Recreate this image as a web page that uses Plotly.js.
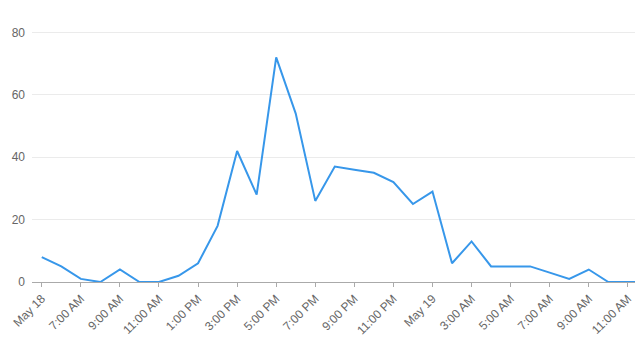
<!DOCTYPE html>
<html>
<head>
<meta charset="utf-8">
<script src="https://cdn.plot.ly/plotly-3.0.1.min.js"></script>
<style>html,body{margin:0;padding:0;background:#fff;}#chart{width:635px;height:341px;}</style>
</head>
<body>
<div id="chart"></div>
<script>
var times = [
  '2024-05-18 05:00','2024-05-18 06:00','2024-05-18 07:00','2024-05-18 08:00','2024-05-18 09:00',
  '2024-05-18 10:00','2024-05-18 11:00','2024-05-18 12:00','2024-05-18 13:00','2024-05-18 14:00',
  '2024-05-18 15:00','2024-05-18 16:00','2024-05-18 17:00','2024-05-18 18:00','2024-05-18 19:00',
  '2024-05-18 20:00','2024-05-18 21:00','2024-05-18 22:00','2024-05-18 23:00','2024-05-19 00:00',
  '2024-05-19 01:00','2024-05-19 02:00','2024-05-19 03:00','2024-05-19 04:00','2024-05-19 05:00',
  '2024-05-19 06:00','2024-05-19 07:00','2024-05-19 08:00','2024-05-19 09:00','2024-05-19 10:00',
  '2024-05-19 11:00','2024-05-19 12:00'
];
var values = [8,5,1,0,4,0,0,2,6,18,42,28,72,54,26,37,36,35,32,25,29,6,13,5,5,5,3,1,4,0,0,0];

var tickVals = [
  '2024-05-18 05:00','2024-05-18 07:00','2024-05-18 09:00','2024-05-18 11:00','2024-05-18 13:00',
  '2024-05-18 15:00','2024-05-18 17:00','2024-05-18 19:00','2024-05-18 21:00','2024-05-18 23:00',
  '2024-05-19 01:00','2024-05-19 03:00','2024-05-19 05:00','2024-05-19 07:00','2024-05-19 09:00',
  '2024-05-19 11:00'
];
var tickText = ['May 18','7:00 AM','9:00 AM','11:00 AM','1:00 PM','3:00 PM','5:00 PM','7:00 PM',
  '9:00 PM','11:00 PM','May 19','3:00 AM','5:00 AM','7:00 AM','9:00 AM','11:00 AM'];

var trace = {
  x: times, y: values, type: 'scatter', mode: 'lines',
  line: {color: '#3797ea', width: 2},
  hoverinfo: 'x+y'
};

var layout = {
  width: 635, height: 341,
  margin: {l: 32, r: 0, t: 20, b: 59},
  paper_bgcolor: '#fff', plot_bgcolor: '#fff',
  showlegend: false,
  font: {family: 'Liberation Sans, Arial, sans-serif', size: 12, color: '#666'},
  xaxis: {
    type: 'date',
    range: ['2024-05-18 04:30', '2024-05-19 11:22'],
    tickmode: 'array', tickvals: tickVals, ticktext: tickText,
    tickangle: -45,
    showgrid: false, zeroline: false,
    showline: true, linecolor: '#aaa', linewidth: 1,
    ticks: 'outside', ticklen: 4, tickcolor: '#aaa', tickwidth: 1,
    tickfont: {size: 12, color: '#666'}
  },
  yaxis: {
    range: [0, 84],
    tickvals: [0, 20, 40, 60, 80],
    showgrid: true, gridcolor: '#ebebeb', gridwidth: 1,
    zeroline: false, showline: false,
    ticks: '', ticklabelstandoff: 6,
    tickfont: {size: 12, color: '#666'}
  }
};

Plotly.newPlot('chart', [trace], layout, {displayModeBar: false, staticPlot: true});
</script>
</body>
</html>
